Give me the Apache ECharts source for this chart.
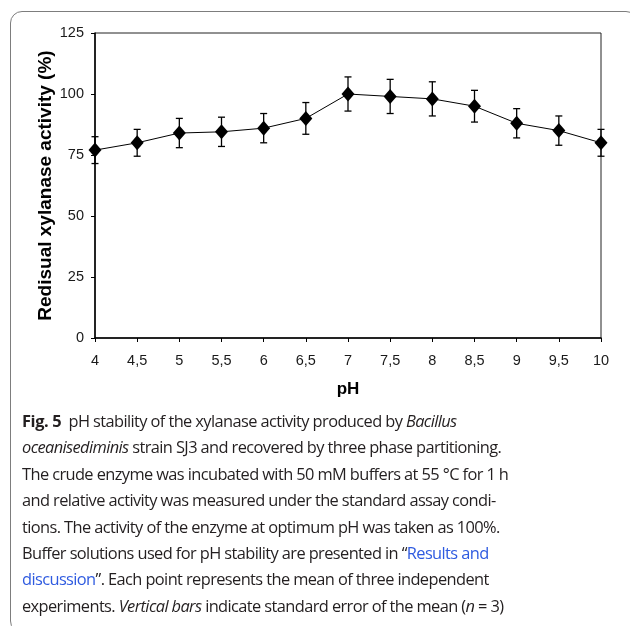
<!DOCTYPE html>
<html>
<head>
<meta charset="utf-8">
<script src="https://cdn.jsdelivr.net/npm/echarts@6/dist/echarts.min.js"></script>
<style>
  html, body { margin: 0; padding: 0; background: #fff; }
  #page { position: relative; width: 630px; height: 626px; overflow: hidden; }
  .frame {
    position: absolute; left: 10px; top: 11px; width: 628px; height: 622px;
    border: 1.5px solid #7d7d7d; border-radius: 12px; box-sizing: border-box;
  }
  #chart { position: absolute; left: 0; top: 0; width: 630px; height: 440px; }
  .caption {
    position: absolute; left: 22px; top: 408px;
    font-family: "Open Sans", "Noto Sans", sans-serif; font-size: 16.4px;
    line-height: 26.4px; color: #231f20; letter-spacing: -0.6px; white-space: nowrap;
  }
  .caption b { font-weight: 700; letter-spacing: -0.4px; }
  .caption .lnk { color: #2f5be0; }
</style>
</head>
<body>
<div id="page">
  <div class="frame"></div>
  <div id="chart"></div>
  <div class="caption">
    <b>Fig. 5</b>&nbsp; pH stability of the xylanase activity produced by <i>Bacillus</i><br>
    <i>oceanisediminis</i> strain SJ3 and recovered by three phase partitioning.<br>
    The crude enzyme was incubated with 50 mM buffers at 55 °C for 1 h<br>
    and relative activity was measured under the standard assay condi-<br>
    tions. The activity of the enzyme at optimum pH was taken as 100%.<br>
    Buffer solutions used for pH stability are presented in “<span class="lnk">Results and</span><br>
    <span class="lnk">discussion</span>”. Each point represents the mean of three independent<br>
    experiments. <i>Vertical bars</i> indicate standard error of the mean (<i>n</i> = 3)
  </div>
</div>
<script>
// pH values (tick labels, comma decimals as in the figure)
const phLabels = ['4', '4,5', '5', '5,5', '6', '6,5', '7', '7,5', '8', '8,5', '9', '9,5', '10'];
// residual activity (%)
const activity = [77, 80, 84, 84.5, 86, 90, 100, 99, 98, 95, 88, 85, 80];
// standard error (+/-)
const errors = [5.5, 5.5, 6, 6, 6, 6.5, 7, 7, 7, 6.5, 6, 6, 5.5];

const chart = echarts.init(document.getElementById('chart'), null, { renderer: 'canvas' });

const errData = activity.map((v, i) => [i, v - errors[i], v + errors[i]]);

const axisFont = { fontFamily: 'Liberation Sans, Arial, sans-serif', fontSize: 14.5, color: '#1a1a1a' };

let option = {
  animation: false,
  grid: {
    left: 95, top: 33, width: 506, height: 305,
    outerBoundsMode: 'none',
    show: true, borderColor: '#222', borderWidth: 1
  },
  xAxis: {
    type: 'category',
    data: phLabels,
    boundaryGap: false,
    name: 'pH',
    nameLocation: 'middle',
    nameGap: 43,
    nameTextStyle: { fontFamily: 'Liberation Sans, Arial, sans-serif', fontSize: 17, fontWeight: 'bold', color: '#000' },
    axisLine: { lineStyle: { color: '#000', width: 1.5 } },
    axisTick: { show: true, inside: false, length: 4, alignWithLabel: true, lineStyle: { color: '#000' } },
    axisLabel: Object.assign({ margin: 15, interval: 0 }, axisFont),
    splitLine: { show: false }
  },
  yAxis: {
    type: 'value',
    min: 0, max: 125, interval: 25,
    name: 'Redisual xylanase activity (%)',
    nameLocation: 'middle',
    nameRotate: 90,
    nameGap: 40,
    nameMoveOverlap: false,
    nameTextStyle: { fontFamily: 'Liberation Sans, Arial, sans-serif', fontSize: 19, fontWeight: 'bold', color: '#000' },
    axisLine: { show: true, lineStyle: { color: '#000', width: 1.5 } },
    axisTick: { show: true, inside: false, length: 4, lineStyle: { color: '#000' } },
    axisLabel: Object.assign({ margin: 11 }, axisFont),
    splitLine: { show: false }
  },
  series: [
    {
      type: 'custom',
      name: 'error',
      data: errData,
      z: 3,
      renderItem: function (params, api) {
        const x = api.value(0);
        const lo = api.coord([x, api.value(1)]);
        const hi = api.coord([x, api.value(2)]);
        const cap = 3.5;
        const st = { stroke: '#000', lineWidth: 1.3 };
        return {
          type: 'group',
          children: [
            { type: 'line', shape: { x1: lo[0], y1: lo[1], x2: hi[0], y2: hi[1] }, style: st },
            { type: 'line', shape: { x1: lo[0] - cap, y1: lo[1], x2: lo[0] + cap, y2: lo[1] }, style: st },
            { type: 'line', shape: { x1: hi[0] - cap, y1: hi[1], x2: hi[0] + cap, y2: hi[1] }, style: st }
          ]
        };
      }
    },
    {
      type: 'line',
      name: 'activity',
      data: activity,
      z: 4,
      symbol: 'diamond',
      symbolSize: [13, 15],
      lineStyle: { color: '#000', width: 1 },
      itemStyle: { color: '#000' }
    }
  ]
};

chart.setOption(option);
</script>
</body>
</html>
